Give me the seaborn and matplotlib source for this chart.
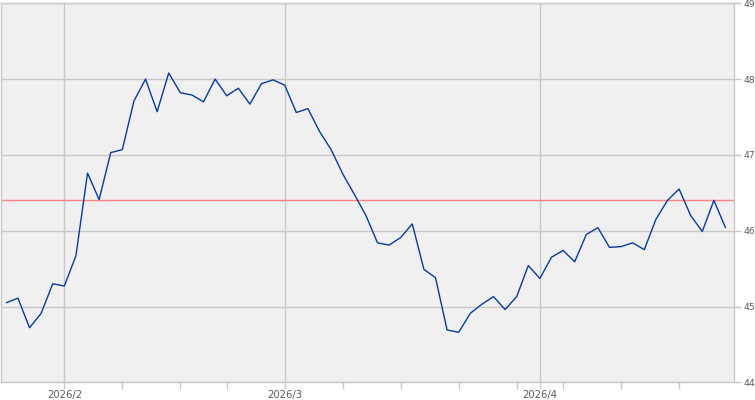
import matplotlib
matplotlib.use("Agg")
import matplotlib.pyplot as plt
import numpy as np
import pandas as pd
import seaborn as sns

# trading days, Jan 26 .. Apr 24 2026 (Feb 16 and Apr 3 closed)
dates = pd.bdate_range("2026-01-26", "2026-04-24")
dates = dates[~dates.isin(pd.to_datetime(["2026-02-16", "2026-04-03"]))]

values = [45.05, 45.11, 44.72, 44.91, 45.30, 45.27, 45.67, 46.76, 46.41, 47.03,
          47.07, 47.71, 48.00, 47.57, 48.08, 47.82, 47.79, 47.70, 48.00, 47.78,
          47.88, 47.67, 47.94, 47.99, 47.92, 47.56, 47.61, 47.31, 47.07, 46.75,
          46.48, 46.20, 45.84, 45.81, 45.91, 46.09, 45.49, 45.38, 44.69, 44.66,
          44.91, 45.03, 45.13, 44.96, 45.13, 45.54, 45.37, 45.65, 45.74, 45.59,
          45.95, 46.04, 45.78, 45.79, 45.84, 45.75, 46.15, 46.40, 46.55, 46.20,
          45.99, 46.40, 46.04]
ref_level = 46.41
y_ticks = [44, 45, 46, 47, 48, 49]
month_labels = ["2026/2", "2026/3", "2026/4"]

df = pd.DataFrame({"date": dates, "value": values})
df["idx"] = np.arange(len(df))

# first trading day of each month / each week
month_start = df.groupby(df["date"].dt.to_period("M"))["idx"].min().values[1:]
week_start = df.groupby(df["date"].dt.to_period("W"))["idx"].min().values[1:]
week_start = [w for w in week_start if w not in month_start]

sns.set_style("white")
grid_c = "#c8c8c8"
txt_c = "#5a5a5a"

fig = plt.figure(figsize=(7.55, 4.0), dpi=100)
ax = fig.add_axes([1 / 755, 17.7 / 400, 733.3 / 755, 379 / 400])
ax.set_facecolor("#f0f0f0")

sns.lineplot(data=df, x="idx", y="value", ax=ax, color="#0a3aa0", linewidth=1.0)
ax.axhline(ref_level, color="#ff8080", linewidth=1.0, zorder=1)

ax.set_xlim(-0.46, 62.76)
ax.set_ylim(44, 49)
ax.set_yticks(y_ticks)
ax.set_yticklabels([str(t) for t in y_ticks])
ax.yaxis.tick_right()
ax.set_xticks(month_start)
ax.set_xticklabels(month_labels)
ax.set_xticks(week_start, minor=True)

ax.grid(True, color=grid_c, linewidth=1.0, zorder=0)
ax.set_axisbelow(True)
ax.tick_params(axis="both", which="both", length=5, width=1, color=grid_c,
               labelcolor=txt_c)
ax.tick_params(axis="x", which="major", labelsize=7.2, pad=0.5)
ax.tick_params(axis="y", direction="out", right=True, left=False,
               labelsize=6.6, pad=1.5)
ax.tick_params(axis="x", which="both", bottom=True)
for s in ax.spines.values():
    s.set_color(grid_c)
    s.set_linewidth(1.0)
ax.set_xlabel("")
ax.set_ylabel("")

fig.savefig("out.png", dpi=100, facecolor="white")
